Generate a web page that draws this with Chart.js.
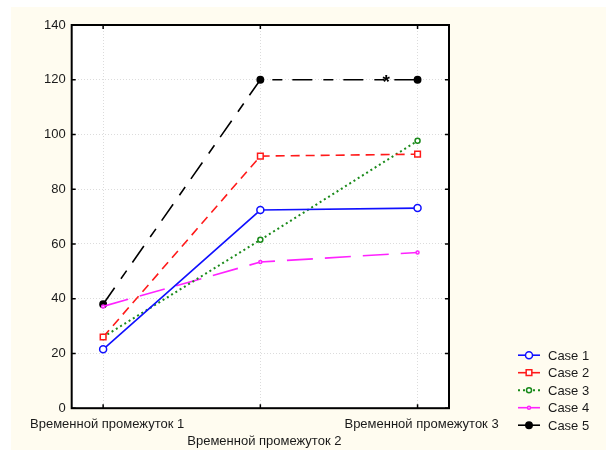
<!DOCTYPE html>
<html>
<head>
<meta charset="utf-8">
<script src="https://cdn.jsdelivr.net/npm/chart.js@4"></script>
<style>
  html, body { margin: 0; padding: 0; background: #fff; }
  #wrap { width: 606px; height: 450px; }
</style>
</head>
<body>
<div id="wrap"><canvas id="chart" width="606" height="450"></canvas></div>
<script>
// данные графика
const categories = ['Временной промежуток 1', 'Временной промежуток 2', 'Временной промежуток 3'];
const case1 = [21.5, 72.4, 73.1];
const case2 = [26, 92.1, 92.8];
const case3 = [26, 61.5, 97.7];
const case4 = [37.2, 53.4, 56.9];
const case5 = [38, 120, 120];
const yTicks = [0, 20, 40, 60, 80, 100, 120, 140];
const starNote = { x: 2.8, y: 120, text: '*' };

const FONT = "'Liberation Sans', Arial, sans-serif";
const toPoints = arr => arr.map((v, i) => ({ x: i + 1, y: v }));

const seriesDefs = [
  { label: 'Case 1', data: case1, color: '#1010ff', dash: [], width: 1.6, point: 'circle', r: 3.5, fill: '#ffffff' },
  { label: 'Case 2', data: case2, color: '#ff1a1a', dash: [9, 6], width: 1.6, point: 'rect', r: 4, fill: '#ffffff' },
  { label: 'Case 3', data: case3, color: '#1a8a1a', dash: [2, 3], width: 2, point: 'circle', r: 2.5, fill: '#ffffff' },
  { label: 'Case 4', data: case4, color: '#ff22ff', dash: [26, 12], width: 1.6, point: 'circle', r: 1.5, fill: '#ffe0ff' },
  { label: 'Case 5', data: case5, color: '#000000', dash: [20, 11, 10, 10], width: 1.6, point: 'circle', r: 3.2, fill: '#000000' }
];

const datasets = seriesDefs.map(s => ({
  label: s.label,
  data: toPoints(s.data),
  borderColor: s.color,
  borderWidth: s.width,
  borderDash: s.dash,
  pointStyle: s.point,
  pointRadius: s.r,
  pointBorderWidth: 1.5,
  pointBackgroundColor: s.fill,
  pointBorderColor: s.color,
  tension: 0,
  fill: false
}));

// фон: кремовая подложка и белое поле графика
const backgroundPlugin = {
  id: 'bg',
  beforeDraw(chart) {
    const { ctx, chartArea } = chart;
    ctx.save();
    ctx.fillStyle = '#fffcf0';
    ctx.fillRect(11, 7, chart.width - 11, chart.height - 7);
    ctx.fillStyle = '#ffffff';
    ctx.fillRect(chartArea.left, chartArea.top, chartArea.right - chartArea.left, chartArea.bottom - chartArea.top);
    ctx.restore();
  }
};

// рамка и внутренние засечки
const framePlugin = {
  id: 'frame',
  afterDraw(chart) {
    const { ctx, chartArea: a, scales } = chart;
    ctx.save();
    ctx.strokeStyle = '#000';
    ctx.lineWidth = 2;
    ctx.setLineDash([]);
    ctx.strokeRect(a.left, a.top, a.right - a.left, a.bottom - a.top);
    ctx.lineWidth = 1.5;
    ctx.beginPath();
    scales.y.ticks.forEach(t => {
      const y = scales.y.getPixelForValue(t.value);
      ctx.moveTo(a.left, y); ctx.lineTo(a.left + 4, y);
      ctx.moveTo(a.right, y); ctx.lineTo(a.right - 4, y);
    });
    scales.x.ticks.forEach(t => {
      const x = scales.x.getPixelForValue(t.value);
      ctx.moveTo(x, a.bottom); ctx.lineTo(x, a.bottom - 4);
      ctx.moveTo(x, a.top); ctx.lineTo(x, a.top + 4);
    });
    ctx.stroke();

    // звёздочка на линии Case 5
    const sx = scales.x.getPixelForValue(starNote.x);
    const sy = scales.y.getPixelForValue(starNote.y);
    ctx.fillStyle = '#000';
    ctx.font = 'bold 19px ' + FONT;
    ctx.textAlign = 'center';
    ctx.textBaseline = 'middle';
    ctx.fillText(starNote.text, sx, sy + 3);
    ctx.restore();
  }
};

// легенда: линия с маркером и подпись
const legendPlugin = {
  id: 'customLegend',
  afterDraw(chart) {
    const { ctx, chartArea: a } = chart;
    const x0 = a.right + 69;
    const rowH = 17.5;
    const yStart = a.bottom - 53;
    ctx.save();
    chart.data.datasets.forEach((ds, i) => {
      const y = yStart + i * rowH;
      ctx.strokeStyle = ds.borderColor;
      ctx.lineWidth = ds.borderWidth;
      ctx.setLineDash(ds.borderDash.length && ds.borderDash[0] < 5 ? ds.borderDash : []);
      ctx.beginPath();
      ctx.moveTo(x0, y); ctx.lineTo(x0 + 22, y);
      ctx.stroke();
      ctx.setLineDash([]);
      ctx.lineWidth = ds.pointBorderWidth;
      ctx.fillStyle = ds.pointBackgroundColor;
      Chart.helpers.drawPoint(ctx, {
        pointStyle: ds.pointStyle, radius: ds.pointRadius, borderWidth: ds.pointBorderWidth
      }, x0 + 11, y);
      ctx.fillStyle = '#1a1a1a';
      ctx.font = '13px ' + FONT;
      ctx.textAlign = 'left';
      ctx.textBaseline = 'middle';
      ctx.fillText(ds.label, x0 + 30, y + 1);
    });
    ctx.restore();
  }
};

new Chart(document.getElementById('chart'), {
  type: 'line',
  data: { datasets: datasets },
  options: {
    responsive: false,
    animation: false,
    layout: { padding: { left: 38, right: 157, top: 25, bottom: -8 } },
    plugins: { legend: { display: false }, tooltip: { enabled: false } },
    scales: {
      x: {
        type: 'linear',
        min: 0.8,
        max: 3.2,
        afterBuildTicks(scale) { scale.ticks = categories.map((c, i) => ({ value: i + 1 })); },
        ticks: {
          autoSkip: false,
          maxRotation: 0,
          padding: 8,
          labelOffset: 4,
          color: '#1a1a1a',
          font: { family: FONT, size: 13, lineHeight: 1.3 },
          callback: (v) => {
            const i = Math.round(v) - 1;
            return i === 1 ? ['', categories[i]] : categories[i];
          }
        },
        grid: { color: '#dcdcdc', drawTicks: false },
        border: { display: false, dash: [1, 2] }
      },
      y: {
        min: 0,
        max: 140,
        afterBuildTicks(scale) { scale.ticks = yTicks.map(v => ({ value: v })); },
        ticks: {
          padding: 6,
          color: '#1a1a1a',
          font: { family: FONT, size: 13 }
        },
        grid: { color: '#dcdcdc', drawTicks: false },
        border: { display: false, dash: [1, 2] }
      }
    }
  },
  plugins: [backgroundPlugin, framePlugin, legendPlugin]
});
</script>
</body>
</html>
